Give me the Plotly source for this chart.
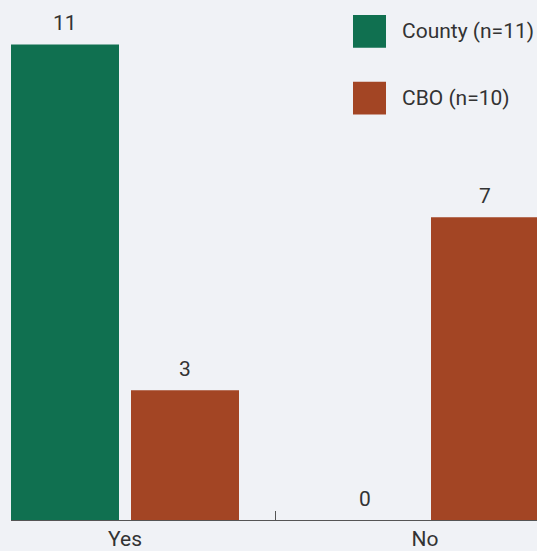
import plotly.graph_objects as go

categories = ["Yes", "No"]
series_names = ["County (n=11)", "CBO (n=10)"]
county_values = [11, 0]
cbo_values = [3, 7]
colors = ["#107050", "#a34524"]

BG = "#f0f2f6"
TXT = "#333333"
FONT = "Roboto"
FS = 21

W, H = 537, 551
ML, MR, MT = 11, 0, 0
baseline_px = 522
MB = H - baseline_px
plot_w = W - ML - MR
plot_h = H - MT - MB
unit_px = 300.0
first_center_px = 125.0 - ML
px_per_val = 43.4


def sx(x):
    return (x - ML) / plot_w


def sy(y):
    return 1 - (y - MT) / plot_h


fig = go.Figure()
all_values = [county_values, cbo_values]
for name, vals, col in zip(series_names, all_values, colors):
    fig.add_trace(go.Bar(
        x=categories, y=vals, name=name, marker=dict(color=col, line=dict(width=0)),
        showlegend=False, hoverinfo="skip", cliponaxis=False,
    ))

# value labels above bars
n = len(all_values)
slot_px = unit_px * (1 - 0.2) / n
for i, vals in enumerate(all_values):
    for cat, v in zip(categories, vals):
        fig.add_annotation(
            x=cat, y=v, text=str(v), showarrow=False,
            xshift=(i - (n - 1) / 2) * slot_px, yshift=21,
            yanchor="middle", xanchor="center",
            font=dict(family=FONT, size=FS, color=TXT),
        )

# legend drawn as large square swatches
for i, (name, col) in enumerate(zip(series_names, colors)):
    top = 15 + i * 67
    fig.add_shape(
        type="rect", xref="paper", yref="paper",
        x0=sx(353), x1=sx(386), y0=sy(top + 33), y1=sy(top),
        fillcolor=col, line=dict(width=0), layer="above",
    )
    fig.add_annotation(
        xref="paper", yref="paper", x=sx(400), y=sy(top + 16.5),
        text=name, showarrow=False, xanchor="left", yanchor="middle",
        font=dict(family=FONT, size=FS, color=TXT),
    )

fig.update_layout(
    width=W, height=H,
    margin=dict(l=ML, r=MR, t=MT, b=MB, pad=0),
    paper_bgcolor=BG, plot_bgcolor=BG,
    barmode="group", bargap=0.2, bargroupgap=0.1,
    font=dict(family=FONT, size=FS, color=TXT),
    showlegend=False,
)
fig.update_xaxes(
    type="category",
    range=[-first_center_px / unit_px, (plot_w - first_center_px) / unit_px],
    showline=True, linecolor="#555555", linewidth=1,
    ticks="inside", tickson="boundaries", ticklen=9, tickcolor="#555555", tickwidth=1,
    showgrid=False, zeroline=False,
    tickfont=dict(family=FONT, size=FS, color=TXT),
)
fig.update_yaxes(
    range=[0, plot_h / px_per_val],
    showgrid=False, zeroline=False, showticklabels=False, ticks="",
)

fig.write_html(
    "out.html",
    config={"displayModeBar": False},
    post_script="document.body.style.margin='0';document.body.style.overflow='hidden';",
)
